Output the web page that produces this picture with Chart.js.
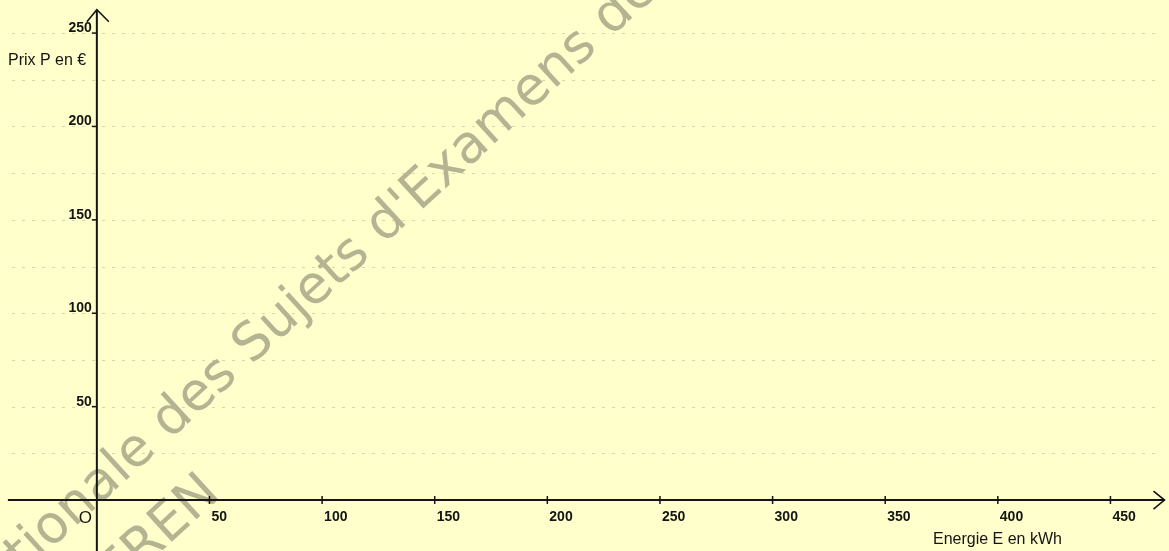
<!DOCTYPE html>
<html>
<head>
<meta charset="utf-8">
<script src="https://cdn.jsdelivr.net/npm/chart.js@4/dist/chart.umd.min.js"></script>
<style>
  html, body { margin: 0; padding: 0; background: #FFFFCC; }
  #wrap { position: relative; width: 1169px; height: 551px; }
</style>
</head>
<body>
<div id="wrap"><canvas id="c"></canvas></div>
<script>
// ---- data ----
const xTickValues = [50, 100, 150, 200, 250, 300, 350, 400, 450];
const yTickValues = [50, 100, 150, 200, 250];
const yGridValues = [25, 50, 75, 100, 125, 150, 175, 200, 225, 250];
const xTitle = 'Energie E en kWh';
const yTitle = 'Prix P en €';
const originLabel = 'O';
const watermarkLines = ["Base Nationale des Sujets d'Examens de l'enseignement professionnel", 'Réseau SCEREN'];
const xRange = [-43, 476];
const yRange = [-27.3, 267.7];
const xAxisExtent = [-39.5, 474];
const yAxisTop = 262.5;

const axesPlugin = {
  id: 'axesPlugin',
  beforeDraw(chart) {
    const ctx = chart.ctx;
    const ys = chart.scales.y;
    const W = chart.width, H = chart.height;
    ctx.save();
    ctx.fillStyle = '#FFFFCC';
    ctx.fillRect(0, 0, W, H);
    // grid
    ctx.strokeStyle = 'rgba(130,130,100,0.33)';
    ctx.lineWidth = 1;
    ctx.setLineDash([3, 7]);
    yGridValues.forEach(v => {
      const y = Math.round(ys.getPixelForValue(v)) + 0.5;
      ctx.beginPath();
      ctx.moveTo(12, y);
      ctx.lineTo(1155, y);
      ctx.stroke();
    });
    ctx.setLineDash([]);
    // watermark
    ctx.fillStyle = 'rgb(180,180,146)';
    const ang = -42.4 * Math.PI / 180;
    ctx.font = '100px "DejaVu Sans", sans-serif';
    const prefix = 'Base Nationale ';
    const key = "des Sujets d'Examens";
    const w100 = ctx.measureText(key).width;
    const fs = 100 * 580 / w100;
    ctx.font = fs.toFixed(1) + 'px "DejaVu Sans", sans-serif';
    const pw = ctx.measureText(prefix).width;
    ctx.save();
    ctx.translate(170, 440);
    ctx.rotate(ang);
    ctx.textAlign = 'left';
    ctx.fillText(watermarkLines[0], -pw, 0);
    ctx.restore();
    ctx.save();
    ctx.translate(222, 496);
    ctx.rotate(ang);
    ctx.textAlign = 'right';
    ctx.fillText(watermarkLines[1], 0, 0);
    ctx.restore();
    ctx.restore();
  },
  afterDraw(chart) {
    const ctx = chart.ctx;
    const xs = chart.scales.x, ys = chart.scales.y;
    const ox = xs.getPixelForValue(0), oy = ys.getPixelForValue(0);
    ctx.save();
    ctx.strokeStyle = '#141414';
    ctx.lineWidth = 2;
    // x axis
    const xl = xs.getPixelForValue(xAxisExtent[0]), xr = xs.getPixelForValue(xAxisExtent[1]);
    ctx.beginPath(); ctx.moveTo(xl, oy); ctx.lineTo(xr, oy); ctx.stroke();
    ctx.lineWidth = 1.6;
    ctx.beginPath(); ctx.moveTo(xr - 11, oy - 9); ctx.lineTo(xr, oy); ctx.lineTo(xr - 11, oy + 9); ctx.stroke();
    // y axis
    ctx.lineWidth = 2;
    const yt = ys.getPixelForValue(yAxisTop);
    ctx.beginPath(); ctx.moveTo(ox, chart.height); ctx.lineTo(ox, yt); ctx.stroke();
    ctx.lineWidth = 1.6;
    ctx.beginPath(); ctx.moveTo(ox - 10, yt + 12); ctx.lineTo(ox, yt); ctx.lineTo(ox + 12, yt + 12); ctx.stroke();
    // ticks
    ctx.lineWidth = 1.5;
    ctx.fillStyle = '#141414';
    ctx.font = 'bold 14px "Liberation Sans", Arial, sans-serif';
    ctx.textBaseline = 'alphabetic';
    xTickValues.forEach(v => {
      const x = xs.getPixelForValue(v);
      ctx.beginPath(); ctx.moveTo(x, oy - 4); ctx.lineTo(x, oy + 4); ctx.stroke();
      ctx.textAlign = 'left';
      ctx.fillText(String(v), x + 2, oy + 21);
    });
    yTickValues.forEach(v => {
      const y = ys.getPixelForValue(v);
      ctx.beginPath(); ctx.moveTo(ox - 5, y); ctx.lineTo(ox, y); ctx.stroke();
      ctx.textAlign = 'right';
      ctx.fillText(String(v), ox - 5, y - 1);
    });
    // titles
    ctx.font = '16px "Liberation Sans", Arial, sans-serif';
    ctx.textAlign = 'left';
    ctx.fillText(yTitle, 8, 65);
    ctx.fillText(xTitle, 933, 544);
    ctx.font = '17px "Liberation Sans", Arial, sans-serif';
    ctx.textAlign = 'right';
    ctx.fillText(originLabel, ox - 5, oy + 23);
    ctx.restore();
  }
};

new Chart(document.getElementById('c'), {
  type: 'scatter',
  data: { datasets: [{ label: 'P', data: [], showLine: false }] },
  options: {
    responsive: true,
    maintainAspectRatio: false,
    animation: false,
    layout: { padding: 0 },
    plugins: { legend: { display: false }, tooltip: { enabled: false } },
    scales: {
      x: { type: 'linear', display: false, min: xRange[0], max: xRange[1] },
      y: { type: 'linear', display: false, min: yRange[0], max: yRange[1] }
    }
  },
  plugins: [axesPlugin]
});
</script>
</body>
</html>
